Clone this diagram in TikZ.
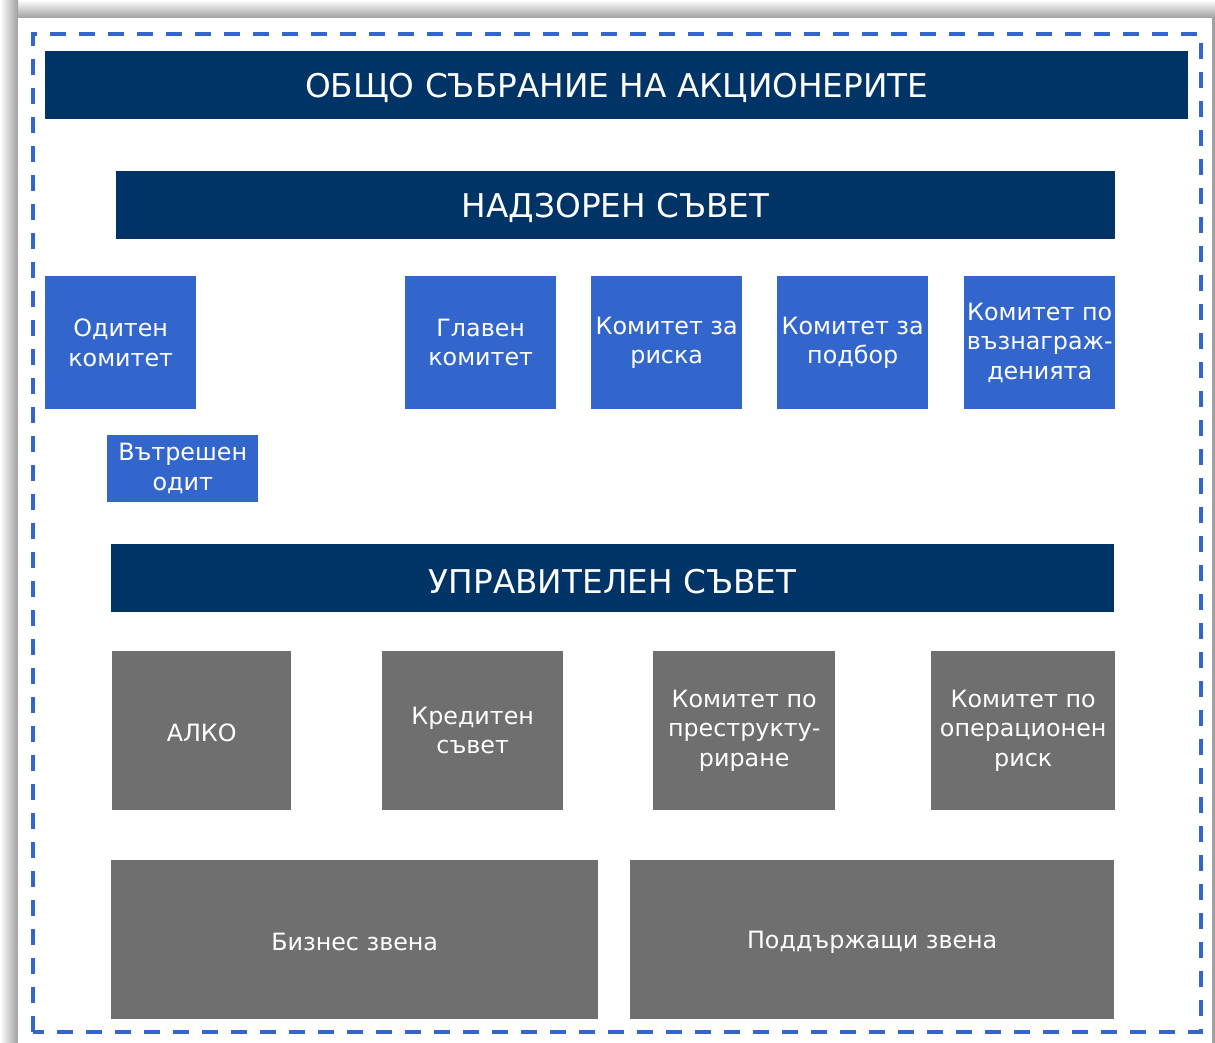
\documentclass[tikz,border=0pt]{standalone}
\usepackage{fontspec}
\setmainfont{DejaVu Sans}
\definecolor{dkblue}{HTML}{003366}
\definecolor{mdblue}{HTML}{3366CC}
\definecolor{boxgray}{HTML}{6F6F6F}
\definecolor{shadow}{HTML}{A0A0A0}
\tikzset{
  base/.style={anchor=north west, inner sep=0pt, text=white, align=center, font=\fontsize{23.8}{29.5}\selectfont},
  hdr/.style={base, fill=dkblue, font=\fontsize{32.7}{36}\selectfont},
  bluebox/.style={base, fill=mdblue},
  graybox/.style={base, fill=boxgray},
  frame/.style={draw=mdblue, line width=3.5pt, dash pattern=on 16pt off 13pt}
}
\newcommand{\dn}[2][3pt]{\raisebox{-#1}[\height][\depth]{#2}}
\begin{document}
\begin{tikzpicture}[x=1pt,y=-1pt]
\useasboundingbox (0,0) rectangle (1215,1043);
% shadow / panel
\shade[top color=white, bottom color=shadow] (0,0) rectangle (1215,18);
\shade[left color=white, right color=shadow] (0,0) rectangle (18,1043);
\fill[shadow] (1212,18) rectangle (1215,1043);
\fill[white] (18,18) rectangle (1212,1043);
\draw[frame] (33,1032) -- (33,34) -- (1201,34) -- (1201,1032) -- cycle;
% header bars
\node[hdr, minimum width=1143pt, minimum height=68pt] (gsm) at (45,51) {\dn{ОБЩО СЪБРАНИЕ НА АКЦИОНЕРИТЕ}};
\node[hdr, minimum width=999pt, minimum height=68pt] (ns) at (116,171) {\dn{НАДЗОРЕН СЪВЕТ}};
\node[hdr, minimum width=1003pt, minimum height=68pt] (us) at (111,544) {\dn{УПРАВИТЕЛЕН СЪВЕТ}};
% supervisory committees
\node[bluebox, minimum width=151pt, minimum height=133pt] (audit) at (45,276) {Одитен\\комитет};
\node[bluebox, minimum width=151pt, minimum height=133pt] (main) at (405,276) {Главен\\комитет};
\node[bluebox, minimum width=151pt, minimum height=133pt] (risk) at (591,276) {Комитет за\\риска};
\node[bluebox, minimum width=151pt, minimum height=133pt] (select) at (777,276) {Комитет за\\подбор};
\node[bluebox, minimum width=151pt, minimum height=133pt] (remun) at (964,276) {Комитет по\\възнаграж-\\денията};
\node[bluebox, minimum width=151pt, minimum height=67pt] (intaudit) at (107,435) {Вътрешен\\одит};
% management committees
\node[graybox, minimum width=179pt, minimum height=159pt] (alco) at (112,651) {\dn[2pt]{АЛКО}};
\node[graybox, minimum width=181pt, minimum height=159pt] (credit) at (382,651) {Кредитен\\съвет};
\node[graybox, minimum width=182pt, minimum height=159pt] (restr) at (653,651) {Комитет по\\преструкту-\\риране};
\node[graybox, minimum width=184pt, minimum height=159pt] (oprisk) at (931,651) {Комитет по\\операционен\\риск};
% units
\node[graybox, minimum width=487pt, minimum height=159pt] (biz) at (111,860) {\dn[2pt]{Бизнес звена}};
\node[graybox, minimum width=484pt, minimum height=159pt] (supp) at (630,860) {\dn[3pt]{Поддържащи звена}};
\end{tikzpicture}
\end{document}
